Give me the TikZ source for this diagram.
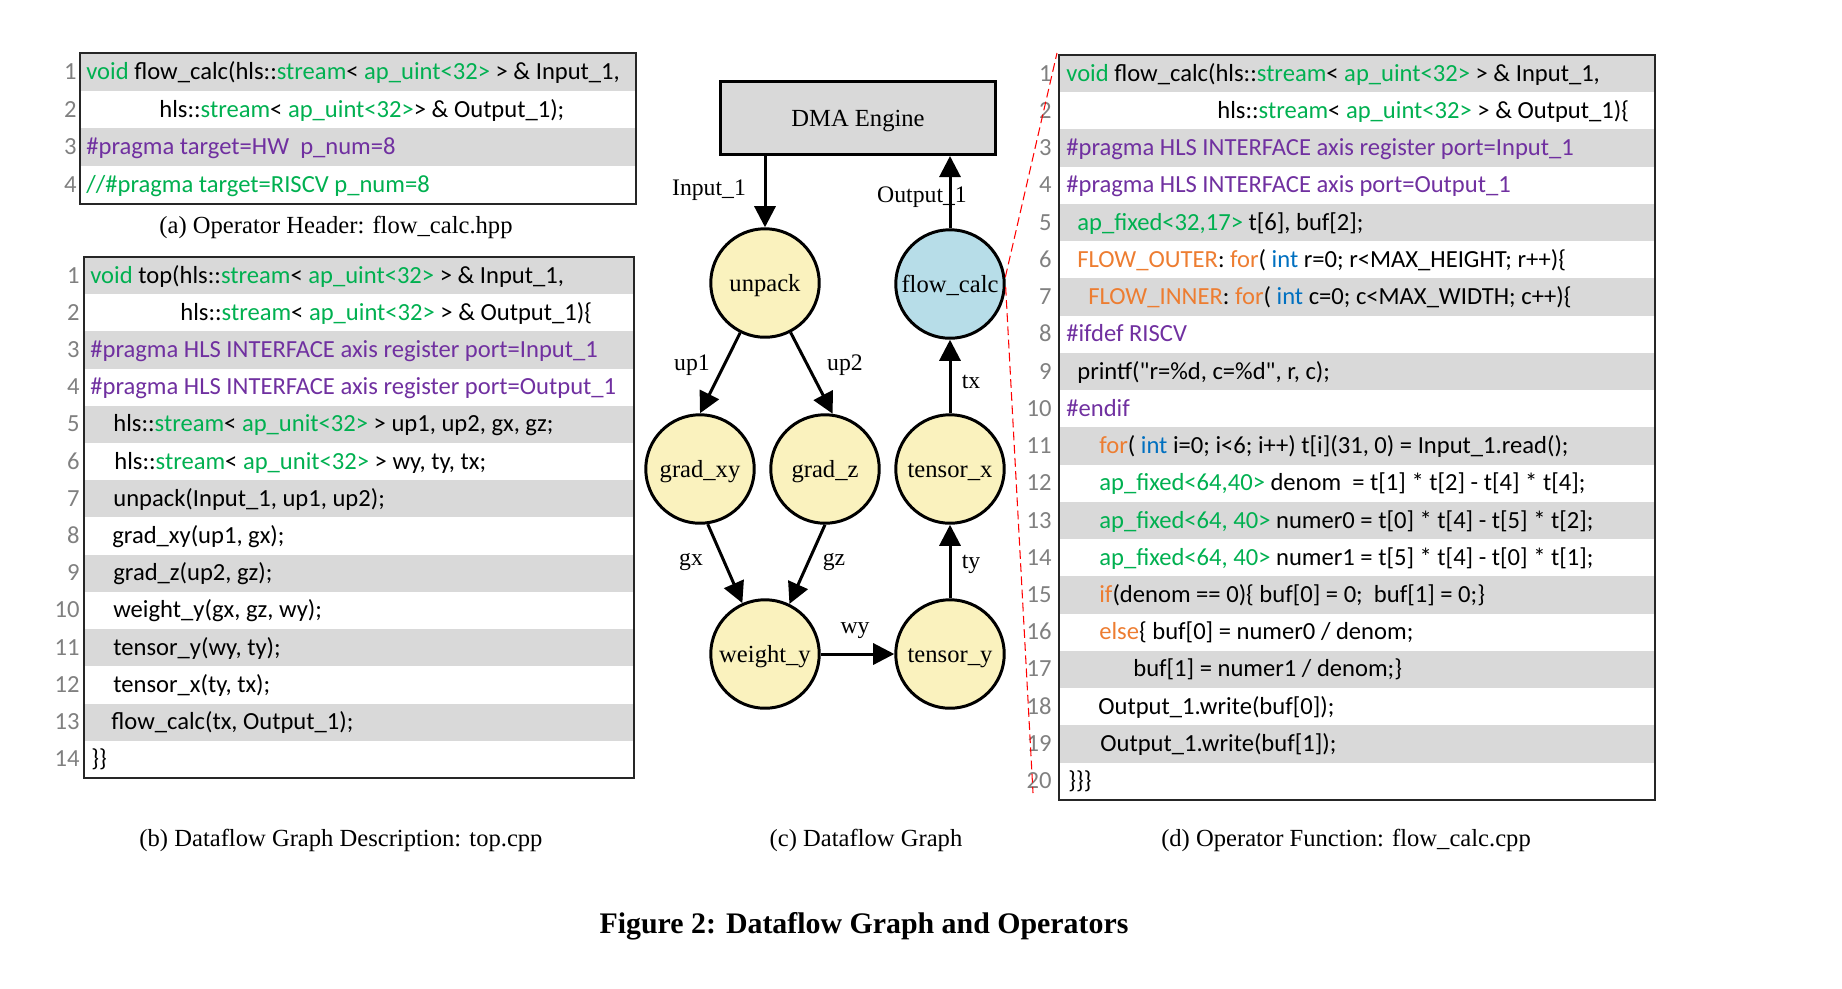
\documentclass[tikz,border=0pt]{standalone}
\usepackage{fontspec}
\setmainfont{Liberation Serif}
\newfontfamily\codefont{Carlito}
\usepackage{xcolor}
\usepackage{tikz}
\usetikzlibrary{arrows.meta}
\definecolor{rowgray}{RGB}{217,217,217}
\definecolor{typegreen}{RGB}{0,176,80}
\definecolor{pragpurple}{RGB}{112,48,160}
\definecolor{ctlorange}{RGB}{237,125,49}
\definecolor{intblue}{RGB}{0,112,192}
\definecolor{numgray}{RGB}{128,128,128}
\definecolor{opyellow}{RGB}{250,242,190}
\definecolor{opblue}{RGB}{183,221,232}
\newcommand{\codetype}[1]{\textcolor{typegreen}{#1}}
\newcommand{\codeprag}[1]{\textcolor{pragpurple}{#1}}
\newcommand{\codectl}[1]{\textcolor{ctlorange}{#1}}
\newcommand{\codeint}[1]{\textcolor{intblue}{#1}}
\tikzset{
    code/.style={anchor=west, inner sep=0pt, text height=11pt, text depth=2.5pt, font=\codefont\fontsize{14}{16}\selectfont},
    lnum/.style={code, anchor=east, text=numgray},
    codebox/.style={draw=black!85, line width=0.9pt},
    subcap/.style={anchor=base, inner sep=0pt, font=\fontsize{14}{16}\selectfont}
}

\begin{document}
\begin{tikzpicture}[
        x=0.02cm, y=-0.02cm,
        op/.style={circle, draw, line width=1.7pt, fill=opyellow, minimum size=2.17cm, inner sep=0pt, text height=11pt, text depth=1pt, font=\fontsize{14}{16}\selectfont},
        dma/.style={rectangle, draw, line width=1.7pt, fill=rowgray, minimum width=5.52cm, minimum height=1.46cm, text height=11pt, text depth=1pt, font=\fontsize{14}{16}\selectfont},
        flow/.style={-{Triangle[length=12pt,width=12pt]}, line width=1.7pt},
        elabel/.style={anchor=base, inner sep=0pt, font=\fontsize{13.5}{16}\selectfont},
        zoomline/.style={draw=red, line width=0.6pt, dash pattern=on 5pt off 2.5pt}
    ]
    \useasboundingbox (0,0) rectangle (1842,988);
    % --- (a) operator header ---
    \begin{scope}[shift={(0,53)}, y=-0.755cm]
        \foreach \i in {1,3} \fill[rowgray] (80,\i-1) rectangle (636,\i);
        \foreach \i in {1,...,4} \node[lnum] (an\i) at (77,\i-0.5) {\i};
        \draw[codebox] (80,0) rectangle (636,4);
        \node[code] (a1) at (86,0.5) {\codetype{void} flow\_calc(hls::\codetype{stream}< \codetype{ap\_uint<32>} > \& Input\_1,};
        \node[code] (a2) at (159,1.5) {hls::\codetype{stream}< \codetype{ap\_uint<32>}> \& Output\_1);};
        \node[code] (a3) at (86,2.5) {\codeprag{\#pragma target=HW\ \ p\_num=8}};
        \node[code] (a4) at (86,3.5) {\codetype{//\#pragma target=RISCV p\_num=8}};
    \end{scope}
    \node[subcap] (capa) at (336,233) {(a) Operator Header: flow\_calc.hpp};
    % --- (b) top.cpp ---
    \begin{scope}[shift={(0,257)}, y=-0.7443cm]
        \foreach \i in {1,3,...,13} \fill[rowgray] (84,\i-1) rectangle (634,\i);
        \foreach \i in {1,...,14} \node[lnum] (bn\i) at (80,\i-0.5) {\i};
        \draw[codebox] (84,0) rectangle (634,14);
        \node[code] (b1) at (90,0.5) {\codetype{void} top(hls::\codetype{stream}< \codetype{ap\_uint<32>} > \& Input\_1,};
        \node[code] (b2) at (180,1.5) {hls::\codetype{stream}< \codetype{ap\_uint<32>} > \& Output\_1)\{};
        \node[code] (b3) at (90,2.5) {\codeprag{\#pragma HLS INTERFACE axis register port=Input\_1}};
        \node[code] (b4) at (90,3.5) {\codeprag{\#pragma HLS INTERFACE axis register port=Output\_1}};
        \node[code] (b5) at (113,4.5) {hls::\codetype{stream}< \codetype{ap\_unit<32>} > up1, up2, gx, gz;};
        \node[code] (b6) at (114,5.5) {hls::\codetype{stream}< \codetype{ap\_unit<32>} > wy, ty, tx;};
        \node[code] (b7) at (113,6.5) {unpack(Input\_1, up1, up2);};
        \node[code] (b8) at (112,7.5) {grad\_xy(up1, gx);};
        \node[code] (b9) at (113,8.5) {grad\_z(up2, gz);};
        \node[code] (b10) at (113,9.5) {weight\_y(gx, gz, wy);};
        \node[code] (b11) at (113,10.5) {tensor\_y(wy, ty);};
        \node[code] (b12) at (113,11.5) {tensor\_x(ty, tx);};
        \node[code] (b13) at (111,12.5) {flow\_calc(tx, Output\_1);};
        \node[code] (b14) at (91,13.5) {\}\}};
    \end{scope}
    \node[subcap] (capb) at (341,846) {(b) Dataflow Graph Description: top.cpp};
    % --- (c) dataflow graph ---
    \node[dma] (dma) at (858,118) {DMA Engine};
    \node[op] (unpack) at (765,283) {unpack};
    \node[op, fill=opblue] (fc) at (950,284) {flow\_calc};
    \node[op] (gxy) at (700,469) {grad\_xy};
    \node[op] (gz) at (825,469) {grad\_z};
    \node[op] (tx) at (950,469) {tensor\_x};
    \node[op] (wy) at (765,654) {weight\_y};
    \node[op] (ty) at (950,654) {tensor\_y};
    \draw[flow] (unpack |- dma.south) -- (unpack.north);
    \draw[flow] (fc.north) -- (fc |- dma.south);
    \draw[flow] (unpack) -- (gxy.north);
    \draw[flow] (unpack) -- (gz.82);
    \draw[flow] (gxy.-82) -- (wy.114);
    \draw[flow] (gz.south) -- (wy.64);
    \draw[flow] (wy) -- (ty);
    \draw[flow] (ty) -- (tx);
    \draw[flow] (tx) -- (fc);
    \node[elabel] (lin) at (709,195) {Input\_1};
    \node[elabel] (lout) at (922,202) {Output\_1};
    \node[elabel] (lup1) at (692,370) {up1};
    \node[elabel] (lup2) at (845,370) {up2};
    \node[elabel] (ltx) at (971,388) {tx};
    \node[elabel] (lgx) at (691,565) {gx};
    \node[elabel] (lgz) at (834,565) {gz};
    \node[elabel] (lty) at (971,568) {ty};
    \node[elabel] (lwy) at (855,633) {wy};
    \node[subcap] (capc) at (866,846) {(c) Dataflow Graph};
    % --- (d) flow_calc.cpp ---
    \begin{scope}[shift={(0,55)}, y=-0.745cm]
        \foreach \i in {1,3,...,19} \fill[rowgray] (1059,\i-1) rectangle (1655,\i);
        \foreach \i in {1,...,20} \node[lnum] (dn\i) at (1052,\i-0.5) {\i};
        \draw[codebox] (1059,0) rectangle (1655,20);
        \node[code] (d1) at (1066,0.5) {\codetype{void} flow\_calc(hls::\codetype{stream}< \codetype{ap\_uint<32>} > \& Input\_1,};
        \node[code] (d2) at (1217,1.5) {hls::\codetype{stream}< \codetype{ap\_uint<32>} > \& Output\_1)\{};
        \node[code] (d3) at (1066,2.5) {\codeprag{\#pragma HLS INTERFACE axis register port=Input\_1}};
        \node[code] (d4) at (1066,3.5) {\codeprag{\#pragma HLS INTERFACE axis port=Output\_1}};
        \node[code] (d5) at (1077,4.5) {\codetype{ap\_fixed<32,17>} t[6], buf[2];};
        \node[code] (d6) at (1077,5.5) {\codectl{FLOW\_OUTER}: \codectl{for}( \codeint{int} r=0; r<MAX\_HEIGHT; r++)\{};
        \node[code] (d7) at (1088,6.5) {\codectl{FLOW\_INNER}: \codectl{for}( \codeint{int} c=0; c<MAX\_WIDTH; c++)\{};
        \node[code] (d8) at (1066,7.5) {\codeprag{\#ifdef RISCV}};
        \node[code] (d9) at (1077,8.5) {printf("r=\%d, c=\%d", r, c);};
        \node[code] (d10) at (1066,9.5) {\codeprag{\#endif}};
        \node[code] (d11) at (1099,10.5) {\codectl{for}( \codeint{int} i=0; i<6; i++) t[i](31, 0) = Input\_1.read();};
        \node[code] (d12) at (1099,11.5) {\codetype{ap\_fixed<64,40>} denom\ \ = t[1] * t[2] - t[4] * t[4];};
        \node[code] (d13) at (1099,12.5) {\codetype{ap\_fixed<64, 40>} numer0 = t[0] * t[4] - t[5] * t[2];};
        \node[code] (d14) at (1099,13.5) {\codetype{ap\_fixed<64, 40>} numer1 = t[5] * t[4] - t[0] * t[1];};
        \node[code] (d15) at (1099,14.5) {\codectl{if}(denom == 0)\{ buf[0] = 0;\ \ buf[1] = 0;\}};
        \node[code] (d16) at (1099,15.5) {\codectl{else}\{ buf[0] = numer0 / denom;};
        \node[code] (d17) at (1133,16.5) {buf[1] = numer1 / denom;\}};
        \node[code] (d18) at (1098,17.5) {Output\_1.write(buf[0]);};
        \node[code] (d19) at (1100,18.5) {Output\_1.write(buf[1]);};
        \node[code] (d20) at (1068,19.5) {\}\}\}};
    \end{scope}
    \node[subcap] (capd) at (1346,846) {(d) Operator Function: flow\_calc.cpp};
    % --- zoom lines ---
    \coordinate (dtop) at (1057,53);
    \coordinate (dbot) at (1033,793);
    \draw[zoomline] (fc.7) -- (dtop);
    \draw[zoomline] (fc.-3) -- (dbot);
    % --- figure caption ---
    \node[anchor=base, inner sep=0pt, font=\bfseries\fontsize{17}{20}\selectfont] (figcap) at (864,933) {Figure 2: Dataflow Graph and Operators};
\end{tikzpicture}
\end{document}
